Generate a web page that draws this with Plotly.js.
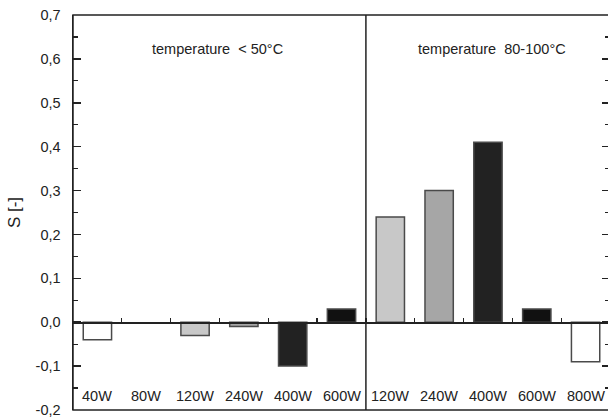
<!DOCTYPE html>
<html>
<head>
<meta charset="utf-8">
<script src="https://cdn.plot.ly/plotly-3.0.1.min.js"></script>
<style>html,body{margin:0;padding:0;overflow:hidden;background:#fff;width:608px;height:418px;}</style>
</head>
<body>
<div id="chart"></div>
<script>
// Categories (power levels) and their group
const labels = ["40W","80W","120W","240W","400W","600W","120W","240W","400W","600W","800W"];
const values = [-0.04, 0, -0.03, -0.01, -0.10, 0.03, 0.24, 0.30, 0.41, 0.03, -0.09];
const fills  = ["#ffffff","#ffffff","#c8c8c8","#a6a6a6","#222222","#111111","#c8c8c8","#a6a6a6","#222222","#111111","#ffffff"];
const groupTitles = ["temperature  < 50°C", "temperature  80-100°C"];
const groupSizes = [6, 5];
const yTickVals = [-0.2, -0.1, 0, 0.1, 0.2, 0.3, 0.4, 0.5, 0.6, 0.7];
const yTickText = ["-0,2","-0,1","0,0","0,1","0,2","0,3","0,4","0,5","0,6","0,7"];

const idx = labels.map((_, i) => i);
const lineCol = values.map(v => v === 0 ? "rgba(0,0,0,0)" : "#4a4a4a");

const trace = {
  type: "bar",
  x: idx,
  y: values,
  width: 0.58,
  marker: {color: fills, line: {color: lineCol, width: 1.5}},
  hoverinfo: "skip"
};

const font = "Liberation Sans, Arial, sans-serif";
const txt = "#222";
const annotations = labels.map((t, i) => ({
  x: i, y: -0.168, xref: "x", yref: "y", text: t, showarrow: false,
  font: {family: font, size: 14.5, color: txt}
}));
let start = 0;
groupTitles.forEach((g, k) => {
  const center = start + (groupSizes[k] - 1) / 2 + (k === 0 ? -0.05 : 0.08);
  annotations.push({x: center, y: 0.622, xref: "x", yref: "y", text: g, showarrow: false,
    font: {family: font, size: 14.5, color: txt}});
  start += groupSizes[k];
});

const layout = {
  width: 610, height: 418,
  margin: {l: 73, r: 0, t: 15, b: 8},
  paper_bgcolor: "#fff", plot_bgcolor: "#fff",
  showlegend: false,
  font: {family: font, size: 14.5, color: txt},
  xaxis: {
    range: [-0.5, 10.5], anchor: "free", position: 0.2 / 0.9,
    showline: true, linecolor: "#222", linewidth: 1.5,
    tickvals: [0.5,1.5,2.5,3.5,4.5,5.5,6.5,7.5,8.5,9.5],
    ticks: "inside", ticklen: 4, tickwidth: 1.2, tickcolor: "#222",
    showticklabels: false, showgrid: false, zeroline: false, fixedrange: true
  },
  yaxis: {
    range: [-0.2, 0.7], tickmode: "array", tickvals: yTickVals, ticktext: yTickText,
    ticks: "inside", ticklen: 8, tickwidth: 1.5, tickcolor: "#222",
    ticklabelstandoff: 8, ticklabeloverflow: "allow",
    minor: {dtick: 0.05, tick0: 0, ticks: "inside", ticklen: 5, tickwidth: 1.2, tickcolor: "#222", showgrid: false},
    showline: true, linecolor: "#222", linewidth: 1.5, mirror: "ticks",
    showgrid: false, zeroline: false,
    tickfont: {family: font, size: 14.5, color: txt},
    title: {text: "S [-]", font: {family: font, size: 17, color: txt}, standoff: 10},
    fixedrange: true
  },
  shapes: [
    {type: "rect", xref: "paper", yref: "paper", x0: 0, x1: 1, y0: 0, y1: 1, line: {color: "#222", width: 1.5}},
    {type: "line", xref: "x", yref: "paper", x0: 5.5, x1: 5.5, y0: 0, y1: 1, line: {color: "#222", width: 1.5}}
  ],
  annotations: annotations
};

Plotly.newPlot("chart", [trace], layout, {displayModeBar: false, staticPlot: true});
</script>
</body>
</html>
